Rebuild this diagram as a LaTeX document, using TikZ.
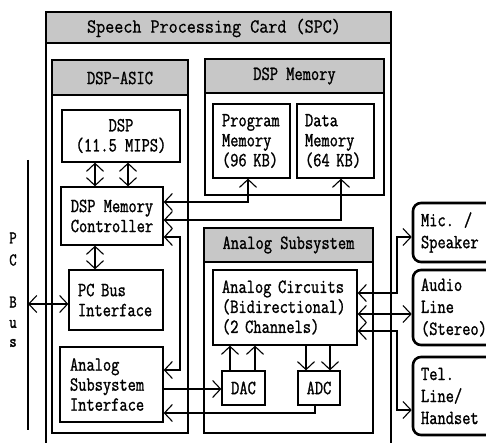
\documentclass[tikz,border=0pt]{standalone}
\usepackage{fontspec}
\newfontfamily\df{Latin Modern Mono}[FakeStretch=0.80,FakeBold=1.2]
\newfontfamily\tf{Latin Modern Mono}[FakeStretch=0.88,FakeBold=0.8]
\usetikzlibrary{arrows.meta}
\begin{document}
\begin{tikzpicture}[x=1pt,y=-1pt,
  >={Straight Barb[length=8pt,width=17pt]},
  every node/.style={font=\df\fontsize{20}{20}\selectfont, inner sep=0pt},
  box/.style={draw, line width=1.3pt},
  lbox/.style={box, align=left},
  cbox/.style={box, align=center},
  cont/.style={draw, line width=2.6pt},
  sep/.style={line width=1.8pt},
  hdr/.style={fill=black!22},
  conn/.style={line width=1.1pt},
  ext/.style={draw, line width=2.6pt, rounded corners=8pt, align=left, inner xsep=8pt, text width=71pt, font=\df\fontsize{20}{22}\selectfont},
  buslbl/.style={font=\df\fontsize{18}{18}\selectfont},
  bus/.style={line width=2.6pt}]
\useasboundingbox (0,0) rectangle (486,443);
\clip (0,0) rectangle (486,443);
\fill[white] (0,0) rectangle (486,443);
% Speech Processing Card
\fill[hdr] (46,12) rectangle (391,43);
\draw[line width=2.6pt] (46,445) -- (46,12) -- (391,12) -- (391,445);
\draw[sep] (46,43) -- (391,43);
\node[font=\tf\fontsize{20}{20}\selectfont] (spct) at (214,28) {Speech Processing Card (SPC)};
% DSP-ASIC
\fill[hdr] (52,60) rectangle (188,95);
\draw[cont] (52,60) rectangle (188,433);
\draw[sep] (52,95) -- (188,95);
\node (asict) at (120,78) {DSP-ASIC};
% DSP Memory
\fill[hdr] (205,59) rectangle (384,93);
\draw[cont] (205,59) rectangle (384,195);
\draw[sep] (205,93) -- (384,93);
\node (dmemt) at (294.5,76) {DSP Memory};
% Analog Subsystem
\fill[hdr] (204,228) rectangle (373,262);
\draw[cont] (204,228) rectangle (373,433);
\draw[sep] (204,262) -- (373,262);
\node (anat) at (288.5,245) {Analog Subsystem};
% inner boxes
\node[cbox, minimum width=118pt, minimum height=52pt] (dsp) at (121,136) {DSP\\(11.5 MIPS)};
\node[lbox, inner xsep=9pt, text width=59pt, minimum height=74pt] (pm) at (251.5,141) {Program\\Memory\\(96 KB)};
\node[lbox, inner xsep=8pt, text width=61pt, minimum height=74pt] (dm) at (335.5,141) {Data\\Memory\\(64 KB)};
\node[cbox, minimum width=102pt, minimum height=58pt] (ctrl) at (112,216) {DSP Memory\\Controller};
\node[lbox, inner xsep=9pt, text width=76pt, minimum height=60pt] (pcbi) at (116,300) {PC Bus\\Interface};
\node[lbox, inner xsep=10pt, text width=83pt, minimum height=75pt] (asi) at (111.5,384.5) {Analog\\Subsystem\\Interface};
\node[lbox, inner xsep=9pt, text width=126pt, minimum height=75pt] (ac) at (285,307.5) {Analog Circuits\\(Bidirectional)\\(2 Channels)};
\node[cbox, minimum width=43pt, minimum height=34pt] (dac) at (243.5,388) {DAC};
\node[cbox, minimum width=42pt, minimum height=34pt] (adc) at (319,388) {ADC};
% external boxes
\node[ext, minimum height=59pt] (mic) at (456.5,232.5) {Mic. /\\Speaker};
\node[ext, minimum height=75pt] (audio) at (456.5,307.5) {Audio\\Line\\(Stereo)};
\node[ext, minimum height=78pt] (tel) at (456.5,396) {Tel.\\Line/\\Handset};
% PC bus
\coordinate (bustop) at (28,160);
\coordinate (busbot) at (28,430);
\draw[bus] (bustop) -- (busbot);
\node[buslbl] (lP) at (13,238) {P};
\node[buslbl] (lC) at (13,260) {C};
\node[buslbl] (lB) at (13,302) {B};
\node[buslbl] (lu) at (13,324) {u};
\node[buslbl] (ls) at (13,343) {s};
% connectors
\draw[conn,<->] (bustop |- 0,304) -- (pcbi.west |- 0,304);
\draw[conn,<->] (dsp.south -| 95,0) -- (ctrl.north -| 95,0);
\draw[conn,<->] (dsp.south -| 128,0) -- (ctrl.north -| 128,0);
\draw[conn,<->] (ctrl.south -| 95,0) -- (pcbi.north -| 95,0);
\draw[conn,<->] (ctrl.east |- 0,202) -- (248,202) -- (pm.south -| 248,0);
\draw[conn,<->] (ctrl.east |- 0,220) -- (341,220) -- (dm.south -| 341,0);
\draw[conn,<->] (ctrl.east |- 0,237) -- (180,237) -- (180,370) -- (asi.east |- 0,370);
\draw[conn,->] (asi.east |- 0,389) -- (dac.west |- 0,389);
\draw[conn,->] (adc.south -| 315,0) -- (315,413) -- (asi.east |- 0,413);
\draw[conn,->] (dac.north -| 230,0) -- (ac.south -| 230,0);
\draw[conn,->] (dac.north -| 255,0) -- (ac.south -| 255,0);
\draw[conn,->] (ac.south -| 306,0) -- (adc.north -| 306,0);
\draw[conn,->] (ac.south -| 330,0) -- (adc.north -| 330,0);
\draw[conn,<->] (ac.east |- 0,293) -- (397,293) -- (397,237) -- (mic.west |- 0,237);
\draw[conn,<->] (ac.east |- 0,314) -- (audio.west |- 0,314);
\draw[conn,<->] (ac.east |- 0,331) -- (397,331) -- (397,410) -- (tel.west |- 0,410);
\end{tikzpicture}
\end{document}
